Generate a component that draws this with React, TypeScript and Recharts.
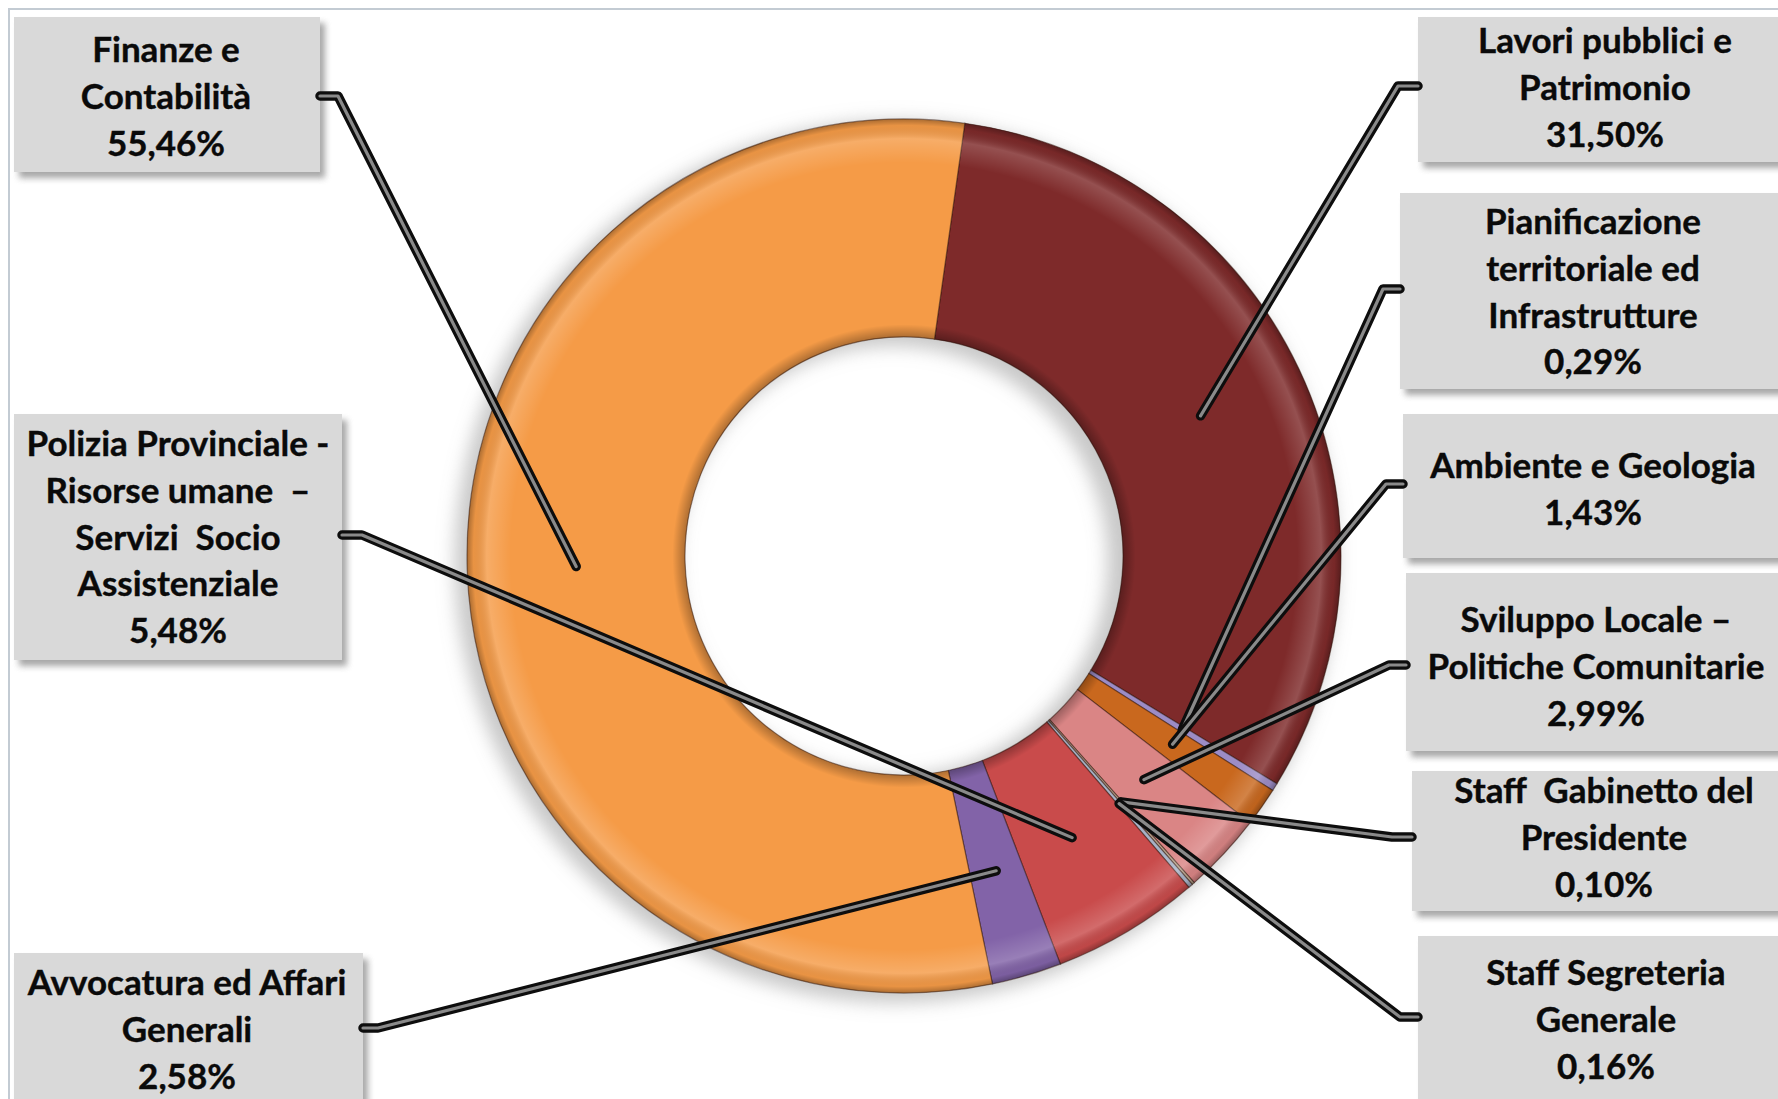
import React from 'react';
import { PieChart, Pie, Cell } from 'recharts';

// ---- data ----
const categories: string[][] = [
  ['Lavori pubblici e', 'Patrimonio'],
  ['Pianificazione', 'territoriale ed', 'Infrastrutture'],
  ['Ambiente e Geologia'],
  ['Sviluppo Locale –', 'Politiche Comunitarie'],
  ['Staff  Gabinetto del', 'Presidente'],
  ['Staff Segreteria', 'Generale'],
  ['Polizia Provinciale -', 'Risorse umane  –', 'Servizi  Socio', 'Assistenziale'],
  ['Avvocatura ed Affari', 'Generali'],
  ['Finanze e', 'Contabilità'],
];
const values: number[] = [31.5, 0.29, 1.43, 2.99, 0.1, 0.16, 5.48, 2.58, 55.46];
const colors: string[] = [
  '#7E2A2A',
  '#9C8CC6',
  '#C9681E',
  '#DA8585',
  '#B9A48E',
  '#A7B2C6',
  '#C94B4B',
  '#8263A8',
  '#F59B47',
];

const data = categories.map((lines, i) => ({ name: lines.join(' '), lines, value: values[i] }));
const ringData = [{ name: 'ring', value: 1 }];

// ---- layout (label boxes) ----
type Box = { x: number; y: number; w: number; h: number; tx: number; ty: number; side: 'L' | 'R'; ly: number; elbow: number };
const boxes: Box[] = [
  { x: 1418, y: 17, w: 380, h: 145, tx: 1605, ty: 39, side: 'R', ly: 86, elbow: 1398 },
  { x: 1400, y: 193, w: 400, h: 196, tx: 1593, ty: 220, side: 'R', ly: 289, elbow: 1383 },
  { x: 1403, y: 414, w: 400, h: 144, tx: 1593, ty: 464, side: 'R', ly: 484, elbow: 1386 },
  { x: 1406, y: 573, w: 400, h: 178, tx: 1596, ty: 618, side: 'R', ly: 665, elbow: 1389 },
  { x: 1412, y: 771, w: 400, h: 140, tx: 1604, ty: 789, side: 'R', ly: 837, elbow: 1392 },
  { x: 1418, y: 936, w: 400, h: 180, tx: 1606, ty: 971, side: 'R', ly: 1017, elbow: 1400 },
  { x: 14, y: 414, w: 328, h: 246, tx: 178, ty: 442, side: 'L', ly: 535, elbow: 362 },
  { x: 14, y: 953, w: 349, h: 160, tx: 187, ty: 981, side: 'L', ly: 1028, elbow: 378 },
  { x: 14, y: 17, w: 306, h: 155, tx: 166, ty: 48, side: 'L', ly: 96, elbow: 338 },
];
const LINE_H = 46.8;
const FONT = 'Lato, "Noto Sans", sans-serif';

const fmt = (v: number) => v.toFixed(2).replace('.', ',') + '%';

const renderLabel = (props: any) => {
  const { cx, cy, midAngle, innerRadius, outerRadius, index } = props;
  const RAD = Math.PI / 180;
  const r = ((innerRadius ?? 219) + (outerRadius ?? 437)) / 2;
  const ax = cx + r * Math.cos(-midAngle * RAD);
  const ay = cy + r * Math.sin(-midAngle * RAD);
  const b = boxes[index];
  const edgeX = b.side === 'R' ? b.x : b.x + b.w;
  const lines = [...categories[index], fmt(values[index])];
  const pts = `${edgeX},${b.ly} ${b.elbow},${b.ly} ${ax},${ay}`;
  return (
    <g key={`lbl-${index}`}>
      <rect x={b.x + 5} y={b.y + 6} width={b.w} height={b.h} fill="#6d6d6d" opacity={0.6} filter="url(#boxBlur)" />
      <rect x={b.x} y={b.y} width={b.w} height={b.h} fill="#D9D9D9" />
      {lines.map((t, k) => (
        <text
          key={k}
          x={b.tx}
          y={b.ty + k * LINE_H}
          textAnchor="middle"
          dominantBaseline="central"
          fontFamily={FONT}
          fontWeight={700}
          fontSize={35}
          fill="#0a0a0a"
          stroke="#0a0a0a"
          strokeWidth={0.4}
          style={{ whiteSpace: 'pre' }}
        >
          {t}
        </text>
      ))}
      <polyline points={pts} fill="none" stroke="#0d0d0d" strokeWidth={9.5} strokeLinejoin="round" strokeLinecap="round" />
      <polyline points={pts} fill="none" stroke="#8a8a8a" strokeWidth={3.2} strokeLinejoin="round" strokeLinecap="round" />
    </g>
  );
};

export default function App() {
  return (
    <div style={{ position: 'absolute', left: 0, top: 0, width: 1778, height: 1099, background: '#fff', overflow: 'hidden' }}>
      <PieChart width={1778} height={1099} margin={{ top: 0, right: 0, bottom: 0, left: 0 }}>
        <defs>
          <filter id="boxBlur" x="-10%" y="-10%" width="120%" height="120%">
            <feGaussianBlur stdDeviation="3" />
          </filter>
          <filter id="ringBlur" x="-20%" y="-20%" width="140%" height="140%">
            <feGaussianBlur stdDeviation="9" />
          </filter>
          <radialGradient id="ringShade" gradientUnits="userSpaceOnUse" cx={904} cy={556} r={437}>
            <stop offset="0.5" stopColor="#000" stopOpacity={0.3} />
            <stop offset="0.53" stopColor="#000" stopOpacity={0.0} />
            <stop offset="0.9" stopColor="#fff" stopOpacity={0.0} />
            <stop offset="0.955" stopColor="#fff" stopOpacity={0.18} />
            <stop offset="0.985" stopColor="#000" stopOpacity={0.05} />
            <stop offset="1" stopColor="#000" stopOpacity={0.3} />
          </radialGradient>
        </defs>
        <rect x={9} y={9} width={1800} height={1200} fill="none" stroke="#C3CBD3" strokeWidth={2} />
        <Pie
          data={ringData}
          dataKey="value"
          cx={898}
          cy={562}
          innerRadius={215}
          outerRadius={441}
          startAngle={82}
          endAngle={-278}
          stroke="none"
          isAnimationActive={false}
          label={false}
          labelLine={false}
        >
          <Cell fill="#9a9a9a" fillOpacity={0.55} filter="url(#ringBlur)" />
        </Pie>
        <Pie
          data={data}
          dataKey="value"
          nameKey="name"
          cx={904}
          cy={556}
          innerRadius={219}
          outerRadius={437}
          startAngle={82}
          endAngle={-278}
          stroke="rgba(50,20,10,0.5)"
          strokeWidth={1.2}
          isAnimationActive={false}
          label={false}
          labelLine={false}
        >
          {data.map((d, i) => (
            <Cell key={i} fill={colors[i]} />
          ))}
        </Pie>
        <Pie
          data={data}
          dataKey="value"
          nameKey="name"
          cx={904}
          cy={556}
          innerRadius={219}
          outerRadius={437}
          startAngle={82}
          endAngle={-278}
          stroke="none"
          isAnimationActive={false}
          labelLine={false}
          label={renderLabel}
        >
          {data.map((d, i) => (
            <Cell key={i} fill="url(#ringShade)" />
          ))}
        </Pie>
      </PieChart>
    </div>
  );
}
